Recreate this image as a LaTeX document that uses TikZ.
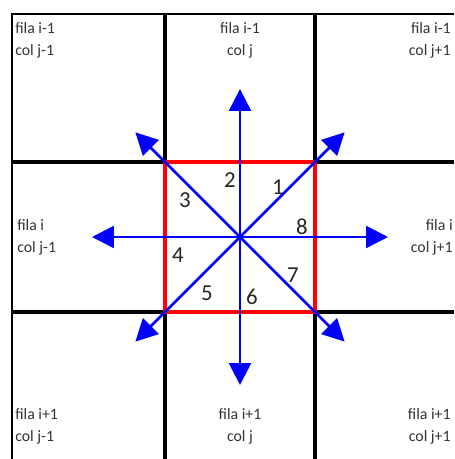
\documentclass[tikz,border=0pt]{standalone}
\usepackage{fontspec}
\setmainfont{Carlito}
\usetikzlibrary{arrows.meta, positioning}

\begin{document}
\begin{tikzpicture}[
    >={Triangle[length=4.4mm, width=4.4mm]},
    grid/.style={line width=2.1pt, black},
    box/.style={draw=red, line width=2pt},
    dir/.style={->, draw=blue, line width=1.5pt, color=blue},
    cellname/.style={font=\fontsize{9}{12.5}\selectfont, text=black!80, inner sep=0pt},
    num/.style={font=\fontsize{13}{15}\selectfont, text=black!85, inner sep=0pt},
]
    \useasboundingbox (-4.8,-4.44) rectangle (4.28,4.74);
    % grid of neighbour cells
    \draw[line width=1.3pt] (-4.56,-4.44) -- (-4.56,4.46) -- (4.28,4.46);
    \foreach \p in {-1.5,1.5} {
        \draw[grid] (\p,-4.44) -- (\p,4.46);
        \draw[grid] (-4.56,\p) -- (4.28,\p);
    }
    \draw[box] (-1.5,-1.5) rectangle (1.5,1.5);

    % the eight directions
    \coordinate (c) at (0,0);
    \foreach \a in {0,45,...,315} {
        \coordinate (t\a) at (\a:2.96);
        \draw[dir] (c) -- (t\a);
    }

    % numbers
    \node[num] (n1) at (0.76,1.0) {1};
    \node[num] (n2) at (-0.2,1.14) {2};
    \node[num] (n3) at (-1.1,0.74) {3};
    \node[num] (n4) at (-1.24,-0.36) {4};
    \node[num] (n5) at (-0.66,-1.12) {5};
    \node[num] (n6) at (0.24,-1.2) {6};
    \node[num] (n7) at (1.06,-0.76) {7};
    \node[num] (n8) at (1.24,0.2) {8};

    % cell names
    \node[cellname, anchor=north west, align=left] (nw) at (-4.5,4.3) {fila i-1\\col j-1};
    \node[cellname, anchor=north, align=center] (nn) at (0,4.3) {fila i-1\\col j};
    \node[cellname, anchor=north east, align=right] (ne) at (4.22,4.3) {fila i-1\\col j+1};
    \node[cellname, anchor=west, align=left] (ww) at (-4.46,0) {fila i\\col j-1};
    \node[cellname, anchor=east, align=right] (ee) at (4.26,0) {fila i\\col j+1};
    \node[cellname, anchor=north west, align=left] (sw) at (-4.5,-3.42) {fila i+1\\col j-1};
    \node[cellname, anchor=north, align=center] (ss) at (0,-3.42) {fila i+1\\col j};
    \node[cellname, anchor=north east, align=right] (se) at (4.22,-3.42) {fila i+1\\col j+1};
\end{tikzpicture}
\end{document}
